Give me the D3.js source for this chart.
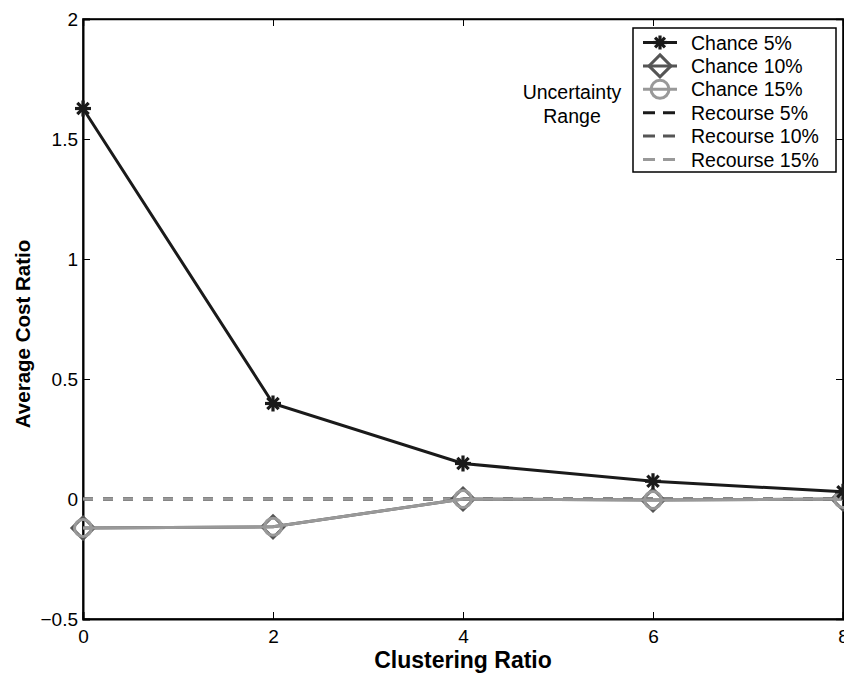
<!DOCTYPE html>
<html><head><meta charset="utf-8">
<script src="https://cdn.jsdelivr.net/npm/d3@7"></script>
<style>body{margin:0;background:#fff}svg{display:block;font-family:"Liberation Sans",Arial,sans-serif}</style>
</head><body><svg id="c" width="844" height="673"></svg>
<script>
const xValues = [0, 2, 4, 6, 8];
const chance5 = [1.627, 0.398, 0.148, 0.074, 0.03];
const chance10 = [-0.121, -0.116, 0.0, -0.004, 0.0];
const chance15 = [-0.121, -0.116, 0.0, -0.004, 0.0];
const recourse5 = [0, 0, 0, 0, 0];
const recourse10 = [0, 0, 0, 0, 0];
const recourse15 = [0, 0, 0, 0, 0];
const xTicks = [0, 2, 4, 6, 8];
const yTicks = [-0.5, 0, 0.5, 1, 1.5, 2];
const legendLabels = ["Chance 5%", "Chance 10%", "Chance 15%", "Recourse 5%", "Recourse 10%", "Recourse 15%"];
const colors = ["#1a1a1a", "#555555", "#999999", "#1a1a1a", "#555555", "#999999"];

const svg = d3.select("#c");
const L = 83, R = 843, T = 19, B = 619;
const x = d3.scaleLinear().domain([0, 8]).range([L, R]);
const y = d3.scaleLinear().domain([-0.5, 2]).range([B, T]);
const FONT = "'Liberation Sans',Arial,sans-serif";

// frame
svg.append("rect").attr("x", L).attr("y", T).attr("width", R - L).attr("height", B - T)
  .attr("fill", "none").attr("stroke", "#000").attr("stroke-width", 1.5);

// axes
const fmt = d => d < 0 ? "\u2212" + Math.abs(d) : String(d);
const ax = svg.append("g").attr("transform", `translate(0,${B})`)
  .call(d3.axisBottom(x).tickValues(xTicks).tickSize(-7).tickFormat(fmt));
const ay = svg.append("g").attr("transform", `translate(${L},0)`)
  .call(d3.axisLeft(y).tickValues(yTicks).tickSize(-7).tickPadding(5).tickFormat(fmt));
const axT = svg.append("g").attr("transform", `translate(0,${T})`)
  .call(d3.axisTop(x).tickValues(xTicks).tickSize(-7).tickFormat(""));
const ayR = svg.append("g").attr("transform", `translate(${R},0)`)
  .call(d3.axisRight(y).tickValues(yTicks).tickSize(-7).tickFormat(""));
[ax, ay, axT, ayR].forEach(g => {
  g.attr("font-size", null).attr("font-family", null);
  g.select(".domain").attr("stroke", "#000").attr("stroke-width", 1.5);
  g.selectAll(".tick line").attr("stroke", "#000").attr("stroke-width", 1);
  g.selectAll("text").attr("font-size", 19).attr("fill", "#000").attr("font-family", FONT);
});
ax.selectAll(".tick text").attr("y", 24).attr("dy", null);
ay.selectAll(".tick text").attr("dy", "0.36em");
ax.select(".domain").attr("stroke-width", 2);
ay.select(".domain").attr("stroke-width", 2);

// labels
svg.append("text").attr("x", 463).attr("y", 668).attr("text-anchor", "middle")
  .attr("font-size", 23).attr("font-weight", "bold").text("Clustering Ratio");
svg.append("text").attr("transform", `translate(30,334) rotate(-90)`).attr("text-anchor", "middle")
  .attr("font-size", 20.5).attr("font-weight", "bold").text("Average Cost Ratio");
svg.append("text").attr("x", 572).attr("y", 99).attr("text-anchor", "middle").attr("font-size", 19.5).text("Uncertainty");
svg.append("text").attr("x", 572).attr("y", 123).attr("text-anchor", "middle").attr("font-size", 19.5).text("Range");

const line = d3.line().x((d, i) => x(xValues[i])).y(d => y(d));
const plot = svg.append("g");

// recourse dashed
[recourse5, recourse10, recourse15].forEach((s, k) => {
  plot.append("path").datum(s).attr("d", line).attr("fill", "none")
    .attr("stroke", colors[3 + k]).attr("stroke-width", 3).attr("stroke-dasharray", "10,10");
});

function star(g, cx, cy, r, col) {
  for (let a = 0; a < 4; a++) {
    const t = a * Math.PI / 4;
    g.append("line").attr("x1", cx - r * Math.cos(t)).attr("y1", cy - r * Math.sin(t))
      .attr("x2", cx + r * Math.cos(t)).attr("y2", cy + r * Math.sin(t))
      .attr("stroke", col).attr("stroke-width", 3.2);
  }
  g.append("circle").attr("cx", cx).attr("cy", cy).attr("r", r * 0.45).attr("fill", col);
}
function diamond(g, cx, cy, r, col) {
  g.append("path").attr("d", `M${cx},${cy - r}L${cx + r},${cy}L${cx},${cy + r}L${cx - r},${cy}Z`)
    .attr("fill", "none").attr("stroke", col).attr("stroke-width", 3);
}
function circ(g, cx, cy, r, col) {
  g.append("circle").attr("cx", cx).attr("cy", cy).attr("r", r)
    .attr("fill", "none").attr("stroke", col).attr("stroke-width", 3);
}

// chance 10
plot.append("path").datum(chance10).attr("d", line).attr("fill", "none").attr("stroke", colors[1]).attr("stroke-width", 3);
chance10.forEach((v, i) => diamond(plot, x(xValues[i]), y(v), 11, colors[1]));
// chance 15
plot.append("path").datum(chance15).attr("d", line).attr("fill", "none").attr("stroke", colors[2]).attr("stroke-width", 3);
chance15.forEach((v, i) => circ(plot, x(xValues[i]), y(v), 8.5, colors[2]));
// chance 5
plot.append("path").datum(chance5).attr("d", line).attr("fill", "none").attr("stroke", colors[0]).attr("stroke-width", 3);
chance5.forEach((v, i) => star(plot, x(xValues[i]), y(v), 8, colors[0]));

// legend
const lg = svg.append("g");
lg.append("rect").attr("x", 633).attr("y", 28).attr("width", 203).attr("height", 144)
  .attr("fill", "#fff").attr("stroke", "#000").attr("stroke-width", 1.5);
legendLabels.forEach((lab, i) => {
  const yy = 42.5 + i * 23.4;
  const col = colors[i];
  const ln = lg.append("line").attr("x1", 643).attr("x2", 677).attr("y1", yy).attr("y2", yy)
    .attr("stroke", col).attr("stroke-width", 3);
  if (i >= 3) ln.attr("stroke-dasharray", "12,8");
  if (i === 0) star(lg, 660, yy, 7, col);
  if (i === 1) diamond(lg, 660, yy, 11, col);
  if (i === 2) circ(lg, 660, yy, 9, col);
  lg.append("text").attr("x", 691).attr("y", yy).attr("dy", "0.36em").attr("font-size", 19.5).text(lab);
});
</script></body></html>
